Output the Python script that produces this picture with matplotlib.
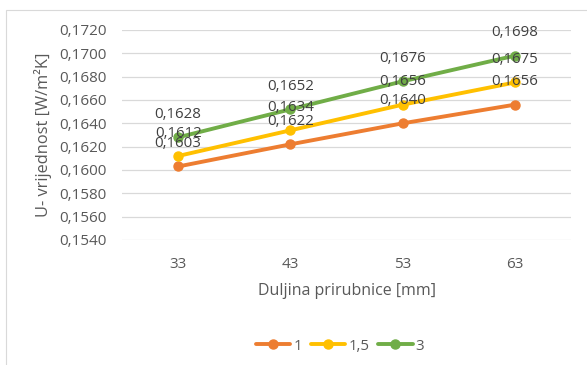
import matplotlib
matplotlib.use("Agg")
import matplotlib.pyplot as plt
from matplotlib.patches import Rectangle
from matplotlib.ticker import FuncFormatter, MultipleLocator

categories = ["33", "43", "53", "63"]
series_names = ["1", "1,5", "3"]
s1 = [0.1603, 0.1622, 0.1640, 0.1656]
s15 = [0.1612, 0.1634, 0.1656, 0.1675]
s3 = [0.1628, 0.1652, 0.1676, 0.1698]
colors = ["#ED7D31", "#FFC000", "#70AD47"]

plt.rcParams['font.family'] = ['Open Sans', 'DejaVu Sans']

W, H = 587, 365
fig = plt.figure(figsize=(W / 100, H / 100), dpi=100)
ax = fig.add_axes([122 / W, 1 - 240 / H, (571 - 122) / W, (240 - 30) / H])

# outer border (extends past right and bottom edges as in the reference)
fig.patches.append(Rectangle((6 / W, -10 / H), (W + 10 - 6) / W, (355 + 10) / H,
                             transform=fig.transFigure, fill=False,
                             edgecolor="#D9D9D9", linewidth=0.8))

x = list(range(len(categories)))
for name, vals, c in zip(series_names, [s1, s15, s3], colors):
    ax.plot(x, vals, color=c, linewidth=2.8, marker="o", markersize=6.5,
            label=name, solid_capstyle="round", zorder=3)
    for xi, v in zip(x, vals):
        ax.annotate(f"{v:.4f}".replace(".", ","), (xi, v), xytext=(0, 16.5),
                    textcoords="offset points", ha="center", va="center",
                    fontsize=10.8, color="#404040", zorder=4)

ax.set_xlim(-0.5, len(categories) - 0.5)
ax.set_ylim(0.1540, 0.1720)
ax.yaxis.set_major_locator(MultipleLocator(0.002))
ax.yaxis.set_major_formatter(FuncFormatter(lambda v, p: f"{v:.4f}".replace(".", ",")))
ax.set_xticks(x)
ax.set_xticklabels(categories)
ax.grid(axis="y", color="#D9D9D9", linewidth=0.9)
ax.set_axisbelow(True)
for s in ax.spines.values():
    s.set_visible(False)
ax.tick_params(axis="both", length=0, labelsize=11, labelcolor="#595959")
ax.tick_params(axis="y", pad=11)
ax.tick_params(axis="x", pad=12)

ax.set_xlabel("Duljina prirubnice [mm]", fontsize=11.5, color="#595959", labelpad=8)
ax.set_ylabel("U- vrijednost [W/m²K]", fontsize=11.8, color="#595959", labelpad=5)

leg = fig.legend(loc="center", bbox_to_anchor=(340 / W, 1 - 346 / H), ncol=3,
                 frameon=False, fontsize=10.8, handlelength=2.3,
                 columnspacing=0.6, handletextpad=0.2, labelcolor="#595959")

fig.savefig("out.png", dpi=100)
